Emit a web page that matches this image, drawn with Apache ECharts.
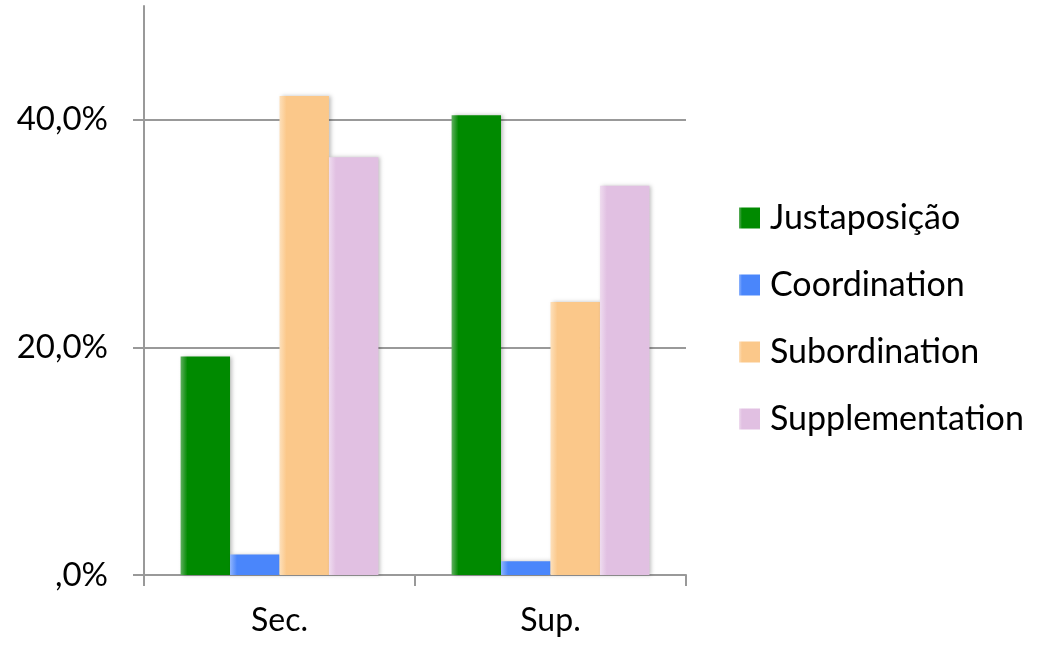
<!DOCTYPE html>
<html>
<head>
<meta charset="utf-8">
<script src="https://cdn.jsdelivr.net/npm/echarts@6/dist/echarts.min.js"></script>
<style>
  html, body { margin: 0; padding: 0; background: #fff; }
  #chart { width: 1046px; height: 645px; }
</style>
</head>
<body>
<div id="chart"></div>
<script>
  // 数据
  const categories = ['Sec.', 'Sup.'];
  const seriesNames = ['Justaposição', 'Coordination', 'Subordination', 'Supplementation'];
  const justaposicao = [19.2, 40.4];
  const coordination = [1.8, 1.2];
  const subordination = [42.1, 24.0];
  const supplementation = [36.7, 34.2];
  const yTicks = [0, 20, 40];

  // 颜色: [浅色边, 主色]
  const colors = [
    ['#5fae5f', '#008a00'],
    ['#8fb4fd', '#4a86fb'],
    ['#fde0bb', '#fbc88a'],
    ['#efdcef', '#e1c0e2'],
  ];

  const fontFamily = 'Lato, "Open Sans", sans-serif';

  function pct(v) {
    // 0 显示成 ",0%"
    const s = v.toFixed(1).replace('.', ',');
    return (s.startsWith('0,') ? s.slice(1) : s) + '%';
  }

  function barStyle(c) {
    return {
      color: new echarts.graphic.LinearGradient(0, 0, 1, 0, [
        { offset: 0, color: c[0] },
        { offset: 0.14, color: c[1] },
        { offset: 1, color: c[1] },
      ]),
      shadowColor: 'rgba(0,0,0,0.25)',
      shadowBlur: 4,
      shadowOffsetX: 2,
    };
  }

  const values = [justaposicao, coordination, subordination, supplementation];

  const chart = echarts.init(document.getElementById('chart'));
  chart.setOption({
    animation: false,
    backgroundColor: '#fff',
    grid: { left: 144, right: 360, top: 6, bottom: 70 },
    legend: {
      orient: 'vertical',
      left: 739,
      top: 201,
      padding: 0,
      itemWidth: 21,
      itemHeight: 21,
      itemGap: 33,
      icon: 'rect',
      textStyle: { fontFamily, fontSize: 34, color: '#000', lineHeight: 34, padding: [0, 0, 0, 5] },
      data: seriesNames,
    },
    xAxis: {
      type: 'category',
      data: categories,
      axisLine: { lineStyle: { color: '#999', width: 2 } },
      axisTick: { show: true, length: 11, lineStyle: { color: '#999', width: 2 } },
      axisLabel: { fontFamily, fontSize: 32, color: '#000', margin: 30 },
    },
    yAxis: {
      type: 'value',
      min: 0,
      max: 50,
      interval: 10,
      axisLine: { show: true, lineStyle: { color: '#999', width: 2 } },
      axisTick: { show: true, length: 11, customValues: yTicks, lineStyle: { color: '#999', width: 2 } },
      axisLabel: { fontFamily, fontSize: 33, color: '#000', margin: 36, customValues: yTicks, formatter: pct },
      splitLine: { show: false },
    },
    series: seriesNames.map((name, i) => ({
      name,
      type: 'bar',
      data: values[i],
      barGap: 0,
      barCategoryGap: '27%',
      itemStyle: barStyle(colors[i]),
      markLine: i === 0 ? {
        silent: true,
        symbol: 'none',
        label: { show: false },
        lineStyle: { color: '#999', width: 2, type: 'solid' },
        data: yTicks.slice(1).map((v) => ({ yAxis: v })),
        z: 0,
      } : undefined,
      z: 2,
    })),
  });
</script>
</body>
</html>
